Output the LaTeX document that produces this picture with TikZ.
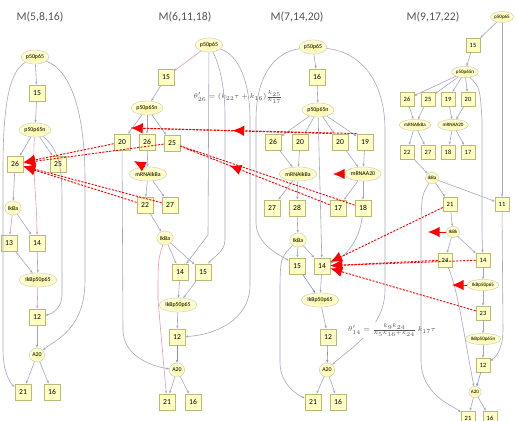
\documentclass[tikz,border=0pt]{standalone}
\usepackage{fontspec}
\setmainfont{Carlito}
\usetikzlibrary{arrows.meta,shapes.geometric,decorations.markings}

\definecolor{boxfill}{RGB}{255,255,196}
\definecolor{boxline}{RGB}{185,185,120}
\definecolor{elin}{RGB}{250,245,150}
\definecolor{elout}{RGB}{255,255,220}
\definecolor{edgegray}{RGB}{165,165,190}
\definecolor{edgepink}{RGB}{225,155,170}
\definecolor{edgeblue}{RGB}{135,135,225}
\definecolor{titlegray}{RGB}{85,85,85}

\tikzset{
  sq/.style={draw=boxline, fill=boxfill, minimum size=14pt, inner sep=0pt, font=\fontsize{6.5}{7}\selectfont},
  sqs/.style={sq, minimum size=12pt, font=\fontsize{5.5}{6}\selectfont},
  el/.style={ellipse, draw=boxline!70, shade, inner color=elin, outer color=elout, inner sep=0.6pt, minimum height=12pt, font=\fontsize{5}{5.5}\selectfont},
  els/.style={el, minimum height=9.5pt, inner sep=0.3pt, font=\fontsize{4.3}{4.8}\selectfont},
  ttl/.style={text=titlegray, font=\fontsize{10}{11}\selectfont},
  eqn/.style={fill=white, inner sep=1pt, text=titlegray, font=\fontsize{6.5}{7.5}\selectfont},
  flow/.style={draw=edgegray, line width=0.5pt, -{Stealth[length=2.5pt,width=2pt]}},
  pflow/.style={flow, draw=edgepink},
  bflow/.style={flow, draw=edgeblue},
  link/.style={draw=red, line width=0.8pt, dash pattern=on 1.8pt off 1.2pt},
  tip/.style={-{Latex[length=10pt,width=9pt,fill=red]}},
  midtip/.style={postaction={decorate}, decoration={markings,
    mark=at position #1 with {\arrow[red]{Latex[length=10pt,width=9pt]}}}},
  bigtip/.style={draw=red, line width=0.8pt, -{Latex[length=10pt,width=9pt,fill=red]}}
}

\begin{document}
\begin{tikzpicture}[x=0.03cm, y=-0.03cm]
  \fill[white] (0,0) rectangle (518,421);
  \useasboundingbox (0,0) rectangle (518,421);

  % M(5,8,16)
  \node[ttl] (ta) at (40,17) {M(5,8,16)};
  \node[el] (a1) at (35,57) {p50p65};
  \node[sq] (a2) at (37,93) {15};
  \node[el] (a3) at (35,130) {p50p65n};
  \node[sq] (a4) at (15,164) {26};
  \node[sq] (a5) at (58,164) {25};
  \node[el] (a6) at (13,208) {IkBa};
  \node[sq] (a7) at (9,243) {13};
  \node[sq] (a8) at (37,243) {14};
  \node[el] (a9) at (38,280) {IkBp50p65};
  \node[sq] (a10) at (37,317) {12};
  \node[el] (a11) at (37,355) {A20};
  \node[sq] (a12) at (23,392) {21};
  \node[sq] (a13) at (52,392) {16};

  \draw[flow] (a1) -- (a2);
  \draw[flow] (a2) -- (a3);
  \draw[flow] (a3) -- (a4);
  \draw[flow] (a3) -- (a5);
  \draw[flow] (a4) -- (a6);
  \draw[pflow] (a6) -- (a7);
  \draw[flow] (a6) -- (a8);
  \draw[pflow] (a3) .. controls (32,170) and (37,200) .. (a8);
  \draw[flow] (a7) -- (a9);
  \draw[flow] (a8) -- (a9);
  \draw[pflow] (a9) -- (a10);
  \draw[flow] (a10) -- (a11);
  \draw[flow] (a11) -- (a12);
  \draw[flow] (a11) -- (a13);
  \draw[flow] (a1) .. controls (8,72) and (3,110) .. (3,170) -- (3,350) .. controls (3,375) and (12,385) .. (a12);
  \draw[flow] (a1) .. controls (70,70) and (85,110) .. (85,180) -- (85,280) .. controls (85,330) and (55,340) .. (a11);
  \draw[flow] (a3) .. controls (60,150) and (62,170) .. (62,200) -- (62,295) .. controls (62,308) and (52,314) .. (a10);

  % M(6,11,18)
  \node[ttl] (tb) at (185,17) {M(6,11,18)};
  \node[el] (b1) at (209,45) {p50p65};
  \node[sq] (b2) at (166,77) {15};
  \node[el] (b3) at (147,108) {p50p65n};
  \node[sq] (b4) at (122,142) {20};
  \node[sq] (b5) at (147,142) {26};
  \node[sq] (b6) at (172,143) {25};
  \node[el] (b7) at (148,174) {mRNAIkBa};
  \node[sq] (b8) at (145,205) {22};
  \node[sq] (b9) at (170,205) {27};
  \node[el] (b10) at (165,238) {IkBa};
  \node[sq] (b11) at (180,272) {14};
  \node[sq] (b12) at (203,272) {15};
  \node[el] (b13) at (178,305) {IkBp50p65};
  \node[sq] (b14) at (177,337) {12};
  \node[el] (b15) at (177,370) {A20};
  \node[sq] (b16) at (167,402) {21};
  \node[sq] (b17) at (193,402) {16};
  \node[eqn] (eq1) at (238,97) {$\theta'_{26}=(k_{22}\tau+k_{16})\frac{k_{25}}{k_{17}}$};

  \draw[pflow] (b1) -- (b2);
  \draw[flow] (b2) -- (b3);
  \draw[flow] (b3) -- (b4);
  \draw[flow] (b3) -- (b5);
  \draw[flow] (b3) -- (b6);
  \draw[flow] (b5) -- (b7);
  \draw[flow] (b7) -- (b8);
  \draw[flow] (b7) -- (b9);
  \draw[flow] (b8) -- (b10);
  \draw[flow] (b10) -- (b11);
  \draw[flow] (b10) -- (b12);
  \draw[flow] (b11) -- (b13);
  \draw[flow] (b12) -- (b13);
  \draw[flow] (b13) -- (b14);
  \draw[bflow] (b14) -- (b15);
  \draw[flow] (b15) -- (b16);
  \draw[flow] (b15) -- (b17);
  \draw[flow] (b1) -- (208,235) -- (b11);
  \draw[flow] (b1) .. controls (220,65) and (225,90) .. (225,115) -- (225,240) .. controls (225,252) and (212,258) .. (b12);
  \draw[flow] (b1) .. controls (238,55) and (250,80) .. (250,120) -- (250,285) .. controls (250,320) and (215,335) .. (b14);
  \draw[flow] (b4) -- (123,330) .. controls (123,355) and (150,366) .. (b15);
  \draw[pflow] (b10) .. controls (158,260) .. (158,300) -- (b16);

  % M(7,14,20)
  \node[ttl] (tc) at (297,17) {M(7,14,20)};
  \node[el] (c1) at (313,47) {p50p65};
  \node[sq] (c2) at (317,77) {16};
  \node[el] (c3) at (318,110) {p50p65n};
  \node[sq] (c4) at (273,142) {26};
  \node[sq] (c5) at (300,142) {20};
  \node[sq] (c6) at (340,142) {20};
  \node[sq] (c7) at (365,142) {19};
  \node[el] (c8) at (298,174) {mRNAIkBa};
  \node[el] (c9) at (363,174) {mRNAA20};
  \node[sq] (c10) at (272,208) {27};
  \node[sq] (c11) at (297,208) {28};
  \node[sq] (c12) at (338,208) {17};
  \node[sq] (c13) at (363,208) {18};
  \node[el] (c14) at (298,240) {IkBa};
  \node[sq] (c15) at (297,266) {15};
  \node[sq] (c16) at (322,266) {14};
  \node[el] (c17) at (320,300) {IkBp50p65};
  \node[sq] (c18) at (328,337) {12};
  \node[el] (c19) at (327,370) {A20};
  \node[sq] (c20) at (313,402) {21};
  \node[sq] (c21) at (338,402) {16};

  \draw[flow] (c1) -- (c2);
  \draw[flow] (c2) -- (c3);
  \draw[flow] (c3) -- (c4);
  \draw[flow] (c3) -- (c5);
  \draw[flow] (c3) -- (c6);
  \draw[flow] (c3) -- (c7);
  \draw[flow] (c4) -- (c8);
  \draw[flow] (c5) -- (c8);
  \draw[flow] (c6) -- (c9);
  \draw[flow] (c7) -- (c9);
  \draw[flow] (c8) -- (c10);
  \draw[flow] (c8) -- (c11);
  \draw[flow] (c9) -- (c12);
  \draw[flow] (c9) -- (c13);
  \draw[flow] (c11) -- (c14);
  \draw[flow] (c14) -- (c15);
  \draw[flow] (c14) -- (c16);
  \draw[bflow] (c15) -- (c17);
  \draw[flow] (c16) -- (c17);
  \draw[flow] (c17) -- (c18);
  \draw[bflow] (c18) -- (c19);
  \draw[flow] (c19) -- (c20);
  \draw[flow] (c19) -- (c21);
  \draw[flow] (c3) -- (c16);
  \draw[flow] (c13) .. controls (360,240) and (345,258) .. (c16);
  \draw[flow] (c1) .. controls (275,52) and (256,75) .. (256,120) -- (256,222) .. controls (256,245) and (280,255) .. (c15);
  \draw[flow] (c1) .. controls (360,52) and (385,80) .. (385,130) -- (385,290) .. controls (385,330) and (345,352) .. (c19);
  \draw[flow] (c14) .. controls (280,258) .. (280,300) -- (280,362) .. controls (280,385) and (298,395) .. (c20);

  % M(9,17,22)
  \node[ttl] (td) at (433,17) {M(9,17,22)};
  \node[els] (d1) at (502,17) {p50p65};
  \node[sqs] (d2) at (473,45) {15};
  \node[els] (d3) at (465,72) {p50p65n};
  \node[sqs] (d4) at (407,99) {26};
  \node[sqs] (d5) at (428,99) {25};
  \node[sqs] (d6) at (448,99) {19};
  \node[sqs] (d7) at (468,99) {20};
  \node[els] (d8) at (415,125) {mRNAIkBa};
  \node[els] (d9) at (453,125) {mRNAA20};
  \node[sqs] (d10) at (407,152) {22};
  \node[sqs] (d11) at (428,152) {27};
  \node[sqs] (d12) at (448,152) {18};
  \node[sqs] (d13) at (468,152) {17};
  \node[els] (d14) at (432,178) {IkBa};
  \node[sqs] (d15) at (450,204) {21};
  \node[sqs] (d16) at (502,204) {11};
  \node[els] (d17) at (453,232) {IkBk};
  \node[sqs] (d18) at (445,260) {24};
  \node[sqs] (d19) at (483,260) {14};
  \node[els] (d20) at (483,285) {IkBp50p65};
  \node[sqs] (d21) at (483,313) {23};
  \node[els] (d22) at (483,339) {IkBp50p65n};
  \node[sqs] (d23) at (483,365) {12};
  \node[els] (d24) at (475,392) {A20};
  \node[sqs] (d25) at (468,418) {21};
  \node[sqs] (d26) at (490,418) {16};
  \node[eqn] (eq2) at (392,330) {$\theta'_{14}=\frac{k_{9}k_{24}}{k_{5}k_{16}+k_{24}}\,k_{17}\tau$};

  \draw[flow] (d1) -- (d2);
  \draw[flow] (d2) -- (d3);
  \draw[flow] (d3) -- (d4);
  \draw[flow] (d3) -- (d5);
  \draw[flow] (d3) -- (d6);
  \draw[flow] (d3) -- (d7);
  \draw[flow] (d4) -- (d8);
  \draw[flow] (d5) -- (d8);
  \draw[flow] (d6) -- (d9);
  \draw[flow] (d7) -- (d9);
  \draw[flow] (d8) -- (d10);
  \draw[flow] (d8) -- (d11);
  \draw[flow] (d9) -- (d12);
  \draw[flow] (d9) -- (d13);
  \draw[flow] (d10) -- (d14);
  \draw[flow] (d14) -- (d15);
  \draw[flow] (d14) -- (d16);
  \draw[flow] (d15) -- (d17);
  \draw[flow] (d17) -- (d18);
  \draw[flow] (d17) -- (d19);
  \draw[flow] (d19) -- (d20);
  \draw[flow] (d20) -- (d21);
  \draw[flow] (d21) -- (d22);
  \draw[flow] (d22) -- (d23);
  \draw[bflow] (d23) -- (d24);
  \draw[flow] (d24) -- (d25);
  \draw[flow] (d24) -- (d26);
  \draw[flow] (d1) -- (d16);
  \draw[flow] (d3) .. controls (480,88) .. (482,120) -- (482,232) .. controls (482,242) .. (d19);
  \draw[flow] (d16) -- (503,330) .. controls (503,350) and (495,358) .. (d23);
  \draw[flow] (d14) .. controls (422,195) .. (421,220) -- (421,360) .. controls (421,395) and (452,405) .. (d25);
  \draw[flow] (d18) .. controls (458,290) and (463,330) .. (d24);

  % reduction links
  \coordinate (bx) at (131,128);
  \coordinate (bq) at (134,161);
  \coordinate (cq) at (333,174);
  \coordinate (dq) at (428,232);
  \coordinate (dr) at (452,285);
  \draw[link, tip] (b4) -- (a4);
  \draw[link, tip] (b6) -- (a4);
  \draw[link, tip] (b8) -- (a4);
  \draw[link, tip] (b9) -- (a4);
  \draw[link, tip] (c6.north west) -- (bx);
  \draw[link, midtip=0.55] (c7.north west) -- (bx);
  \draw[link, midtip=0.67] (c12) -- (b6);
  \draw[link] (c13) -- (b6);
  \draw[link, tip] (d15) -- (c16);
  \draw[link, tip] (d18) -- (c16);
  \draw[link, tip] (d19) -- (c16);
  \draw[link, tip] (d21) -- (c16);
  \draw[bigtip] (b7.115) -- (bq);
  \draw[bigtip] (c9.west) -- (cq);
  \draw[bigtip] (d17.west) -- (dq);
  \draw[bigtip] (d20.west) -- (dr);
\end{tikzpicture}
\end{document}
